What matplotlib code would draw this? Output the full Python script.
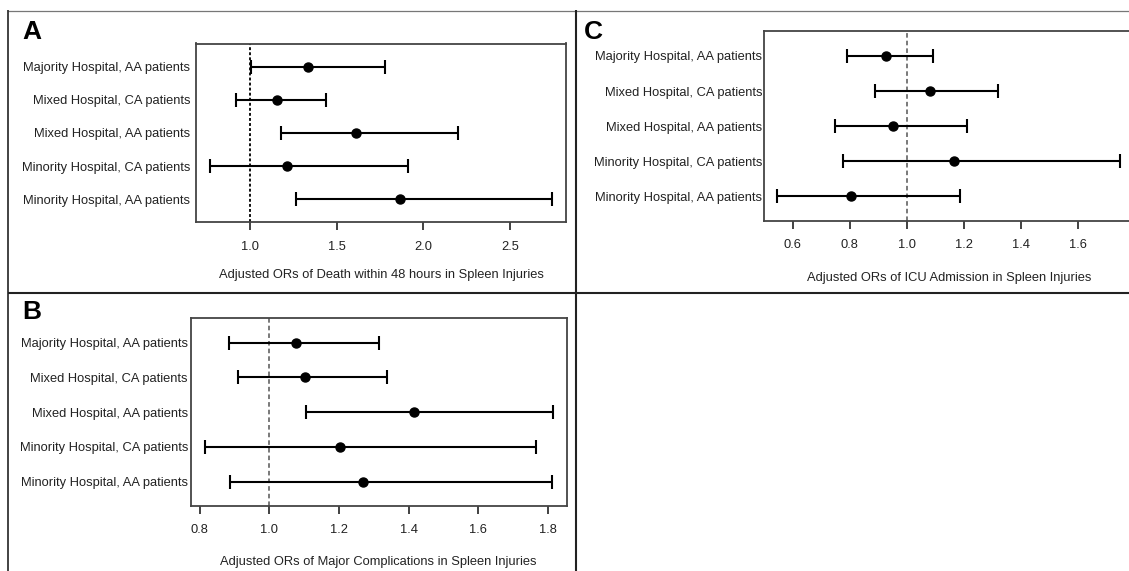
import matplotlib
matplotlib.use("Agg")
import matplotlib.pyplot as plt
from matplotlib.lines import Line2D

plt.rcParams['font.family'] = ['Liberation Sans', 'DejaVu Sans']

categories = ["Majority Hospital, AA patients",
              "Mixed Hospital, CA patients",
              "Mixed Hospital, AA patients",
              "Minority Hospital, CA patients",
              "Minority Hospital, AA patients"]

# Panel A: Death within 48 hours
a_or = [1.337, 1.153, 1.610, 1.211, 1.864]
a_lo = [1.003, 0.916, 1.177, 0.767, 1.267]
a_hi = [1.780, 1.440, 2.200, 1.909, 2.744]
a_ticks = [1.0, 1.5, 2.0, 2.5]
a_xlabel = "Adjusted ORs of Death within 48 hours in Spleen Injuries"

# Panel B: Major complications
b_or = [1.076, 1.103, 1.416, 1.202, 1.269]
b_lo = [0.884, 0.910, 1.106, 0.815, 0.888]
b_hi = [1.314, 1.339, 1.814, 1.767, 1.811]
b_ticks = [0.8, 1.0, 1.2, 1.4, 1.6, 1.8]
b_xlabel = "Adjusted ORs of Major Complications in Spleen Injuries"

# Panel C: ICU admission
c_or = [0.927, 1.083, 0.952, 1.165, 0.806]
c_lo = [0.789, 0.888, 0.747, 0.777, 0.546]
c_hi = [1.092, 1.320, 1.212, 1.750, 1.187]
c_ticks = [0.6, 0.8, 1.0, 1.2, 1.4, 1.6]
c_xlabel = "Adjusted ORs of ICU Admission in Spleen Injuries"

W, H = 1129, 571
fig = plt.figure(figsize=(W / 100, H / 100), dpi=100)


def px_axes(left, top, right, bottom):
    return fig.add_axes([left / W, 1 - bottom / H, (right - left) / W, (bottom - top) / H])


def forest(ax, orv, lo, hi, ticks, xlabel, ref_style, ylab_pad, xlabel_dist):
    n = len(categories)
    ys = list(range(1, n + 1))
    xerr = [[o - l for o, l in zip(orv, lo)], [h - o for o, h in zip(orv, hi)]]
    ax.errorbar(orv, ys, xerr=xerr, fmt='o', color='black', ms=6.5,
                elinewidth=1.5, capsize=4.7, capthick=1.5, zorder=3)
    ax.axvline(1.0, zorder=1, **ref_style)
    dmin, dmax = min(lo), max(hi)
    pad = 0.04 * (dmax - dmin)
    ax.set_xlim(dmin - pad, dmax + pad)
    ax.set_ylim(n + 0.5 + 0.04 * n, 0.5 - 0.04 * n)
    ax.set_yticks(ys)
    ax.set_yticklabels(categories, fontsize=9.3, color='#222222')
    ax.tick_params(axis='y', length=0, pad=ylab_pad)
    ax.set_xticks(ticks)
    ax.set_xticklabels([f"{t:.1f}" for t in ticks], fontsize=9.3, color='#222222')
    ax.tick_params(axis='x', length=5.8, width=1.3, pad=7.5, color='#333333')
    for s in ax.spines.values():
        s.set_color('#444444')
        s.set_linewidth(1.3)
    ax.set_xlabel(xlabel, fontsize=9.3, color='#222222')
    hpx = ax.get_position().height * H
    ax.xaxis.set_label_coords(0.5, -xlabel_dist / hpx)
    ax.xaxis.label.set_va('center')


axA = px_axes(196, 43.5, 566, 222.3)
forest(axA, a_or, a_lo, a_hi, a_ticks, a_xlabel,
       dict(color='black', lw=1.3, linestyle=(0, (1.6, 1.2))), 4.3, 53)

axC = px_axes(763.6, 31.3, 1134, 221)
forest(axC, c_or, c_lo, c_hi, c_ticks, c_xlabel,
       dict(color='#555555', lw=1.1, linestyle=(0, (3, 2))), 0.8, 56.7)

axB = px_axes(191, 318.3, 566.5, 506)
forest(axB, b_or, b_lo, b_hi, b_ticks, b_xlabel,
       dict(color='#555555', lw=1.1, linestyle=(0, (3, 2))), 2.2, 55.7)

# panel letters
for letter, x, y in [("A", 22, 20), ("C", 584, 20), ("B", 22, 300)]:
    fig.text(x / W, 1 - y / H, letter, fontsize=19, fontweight='bold',
             ha='left', va='top', color='black')


# panel borders
def fline(x0, y0, x1, y1, color, lw):
    fig.add_artist(Line2D([x0 / W, x1 / W], [1 - y0 / H, 1 - y1 / H],
                          transform=fig.transFigure, color=color, lw=lw,
                          solid_capstyle='butt'))


fline(8, 10.5, W, 10.5, '#777777', 0.9)
fline(8.3, 10, 8.3, H, '#222222', 1.2)
fline(575.5, 10, 575.5, H, '#222222', 1.5)
fline(8, 292.7, W, 292.7, '#222222', 1.5)

fig.savefig("out.png", dpi=100)
